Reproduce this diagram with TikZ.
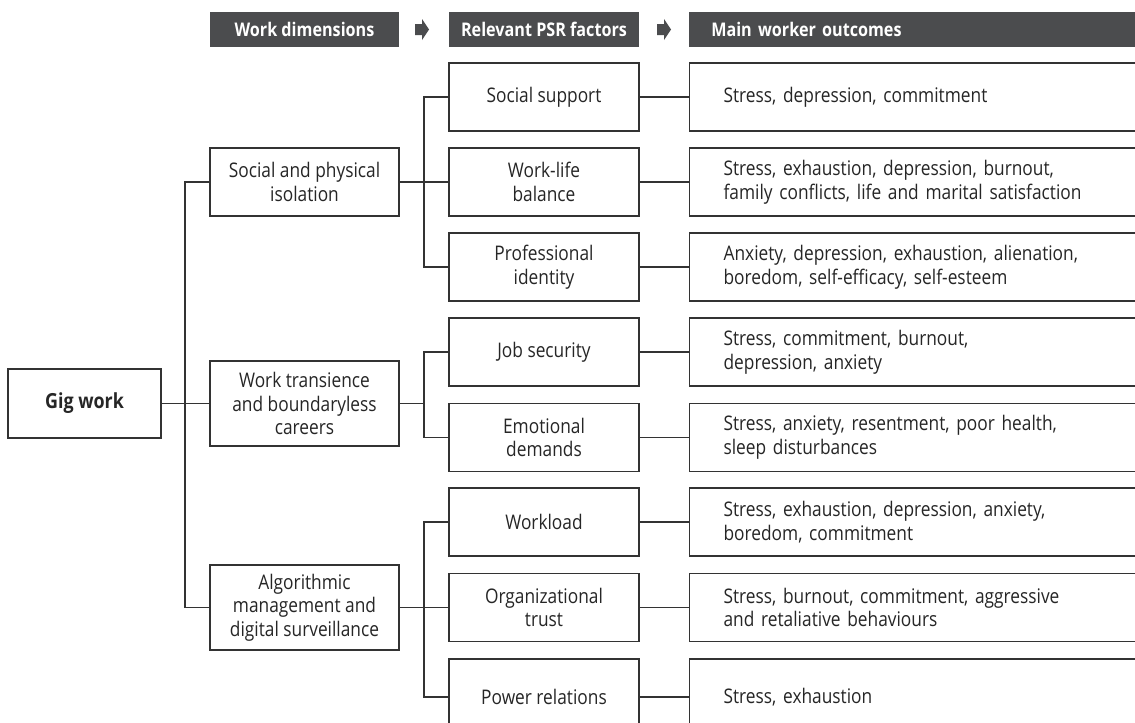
\documentclass[tikz,border=0pt]{standalone}
\usepackage{fontspec}
\setmainfont{Open Sans}[FakeStretch=0.86]
\definecolor{linec}{HTML}{333333}
\definecolor{hdrc}{HTML}{4B4C4E}
\definecolor{txt}{HTML}{262626}
\tikzset{
  conn/.style={draw=linec, line width=0.9pt},
  box/.style={draw=linec, line width=0.9pt, fill=white, text=txt, align=center,
    inner sep=0pt, font=\fontsize{15.1}{17.8}\selectfont},
  gigbox/.style={box, minimum width=114.75pt, minimum height=51.75pt, font=\fontsize{15.6}{17.8}\selectfont\bfseries},
  dimbox/.style={box, minimum width=141.75pt},
  psrbox/.style={box, minimum width=142.5pt, minimum height=51pt},
  outbox/.style={box, anchor=west, align=left, inner xsep=25.5pt, text width=294pt, minimum height=51pt},
  hdrbox/.style={fill=hdrc, text=white, inner sep=0pt, minimum height=26.25pt,
    font=\fontsize{14.1}{16}\selectfont\bfseries},
  hdrarrow/.style={fill=hdrc, draw=none}
}
\begin{document}
\begin{tikzpicture}[x=0.75pt, y=-0.75pt]
\useasboundingbox (0,0) rectangle (1135,722);
\clip (0,0) rectangle (1135,722);

% header
\node[hdrbox, minimum width=141.75pt] (h1) at (304.5,29.5) {Work dimensions};
\node[hdrbox, minimum width=142.5pt] (h2) at (544,29.5) {Relevant PSR factors};
\node[hdrbox, anchor=west, minimum width=345pt, text width=345pt, inner xsep=0pt, align=left] (h3) at (689,29.5) {\hspace*{16.5pt}Main worker outcomes};
\fill[hdrarrow] (415,24) -- (422,24) -- (422,19) -- (429,29.5) -- (422,40) -- (422,35) -- (415,35) -- cycle;
\fill[hdrarrow] (657,24) -- (664,24) -- (664,19) -- (671,29.5) -- (664,40) -- (664,35) -- (657,35) -- cycle;

% root
\node[gigbox] (gig) at (84.5,403.5) {Gig work};

% work dimensions
\node[dimbox, minimum height=51pt] (sp) at (304.5,182) {Social and physical\\isolation};
\node[dimbox, minimum height=63.75pt] (wt) at (304.5,403.5) {Work transience\\and boundaryless\\careers};
\node[dimbox, minimum height=63.75pt] (al) at (304.5,607.5) {Algorithmic\\management and\\digital surveillance};

% PSR factors
\node[psrbox] (ss) at (544,97) {Social support};
\node[psrbox] (wl) at (544,182) {Work-life\\balance};
\node[psrbox] (pi) at (544,267) {Professional\\identity};
\node[psrbox] (js) at (544,352) {Job security};
\node[psrbox] (ed) at (544,437.5) {Emotional\\demands};
\node[psrbox] (wo) at (544,522) {Workload};
\node[psrbox] (ot) at (544,607.5) {Organizational\\trust};
\node[psrbox, minimum height=57pt] (pr) at (544,697) {Power relations};

% outcomes
\node[outbox] (o1) at (689,97) {Stress, depression, commitment};
\node[outbox] (o2) at (689,182) {Stress, exhaustion, depression, burnout,\\family conflicts, life and marital satisfaction};
\node[outbox] (o3) at (689,267) {Anxiety, depression, exhaustion, alienation,\\boredom, self-efficacy, self-esteem};
\node[outbox] (o4) at (689,352) {Stress, commitment, burnout,\\depression, anxiety};
\node[outbox] (o5) at (689,437.5) {Stress, anxiety, resentment, poor health,\\sleep disturbances};
\node[outbox] (o6) at (689,522) {Stress, exhaustion, depression, anxiety,\\boredom, commitment};
\node[outbox] (o7) at (689,607.5) {Stress, burnout, commitment, aggressive\\and retaliative behaviours};
\node[outbox, minimum height=57pt] (o8) at (689,697) {Stress, exhaustion};

% trunk coordinates
\coordinate (t0) at (185,403.5);
\coordinate (t1) at (424,0);

% connectors: root to dimensions
\draw[conn] (gig.east) -- (wt.west);
\draw[conn] (sp.west) -- (sp.west -| t0) -- (al.west -| t0) -- (al.west);

% dimensions to PSR factors
\draw[conn] (sp.east) -- (wl.west);
\draw[conn] (ss.west) -- (ss.west -| t1) -- (pi.west -| t1) -- (pi.west);
\draw[conn] (wt.east) -- (wt.east -| t1);
\draw[conn] (js.west) -- (js.west -| t1) -- (ed.west -| t1) -- (ed.west);
\draw[conn] (al.east) -- (ot.west);
\draw[conn] (wo.west) -- (wo.west -| t1) -- (pr.west -| t1) -- (pr.west);

% PSR factors to outcomes
\draw[conn] (ss.east) -- (o1.west);
\draw[conn] (wl.east) -- (o2.west);
\draw[conn] (pi.east) -- (o3.west);
\draw[conn] (js.east) -- (o4.west);
\draw[conn] (ed.east) -- (o5.west);
\draw[conn] (wo.east) -- (o6.west);
\draw[conn] (ot.east) -- (o7.west);
\draw[conn] (pr.east) -- (o8.west);
\end{tikzpicture}
\end{document}
